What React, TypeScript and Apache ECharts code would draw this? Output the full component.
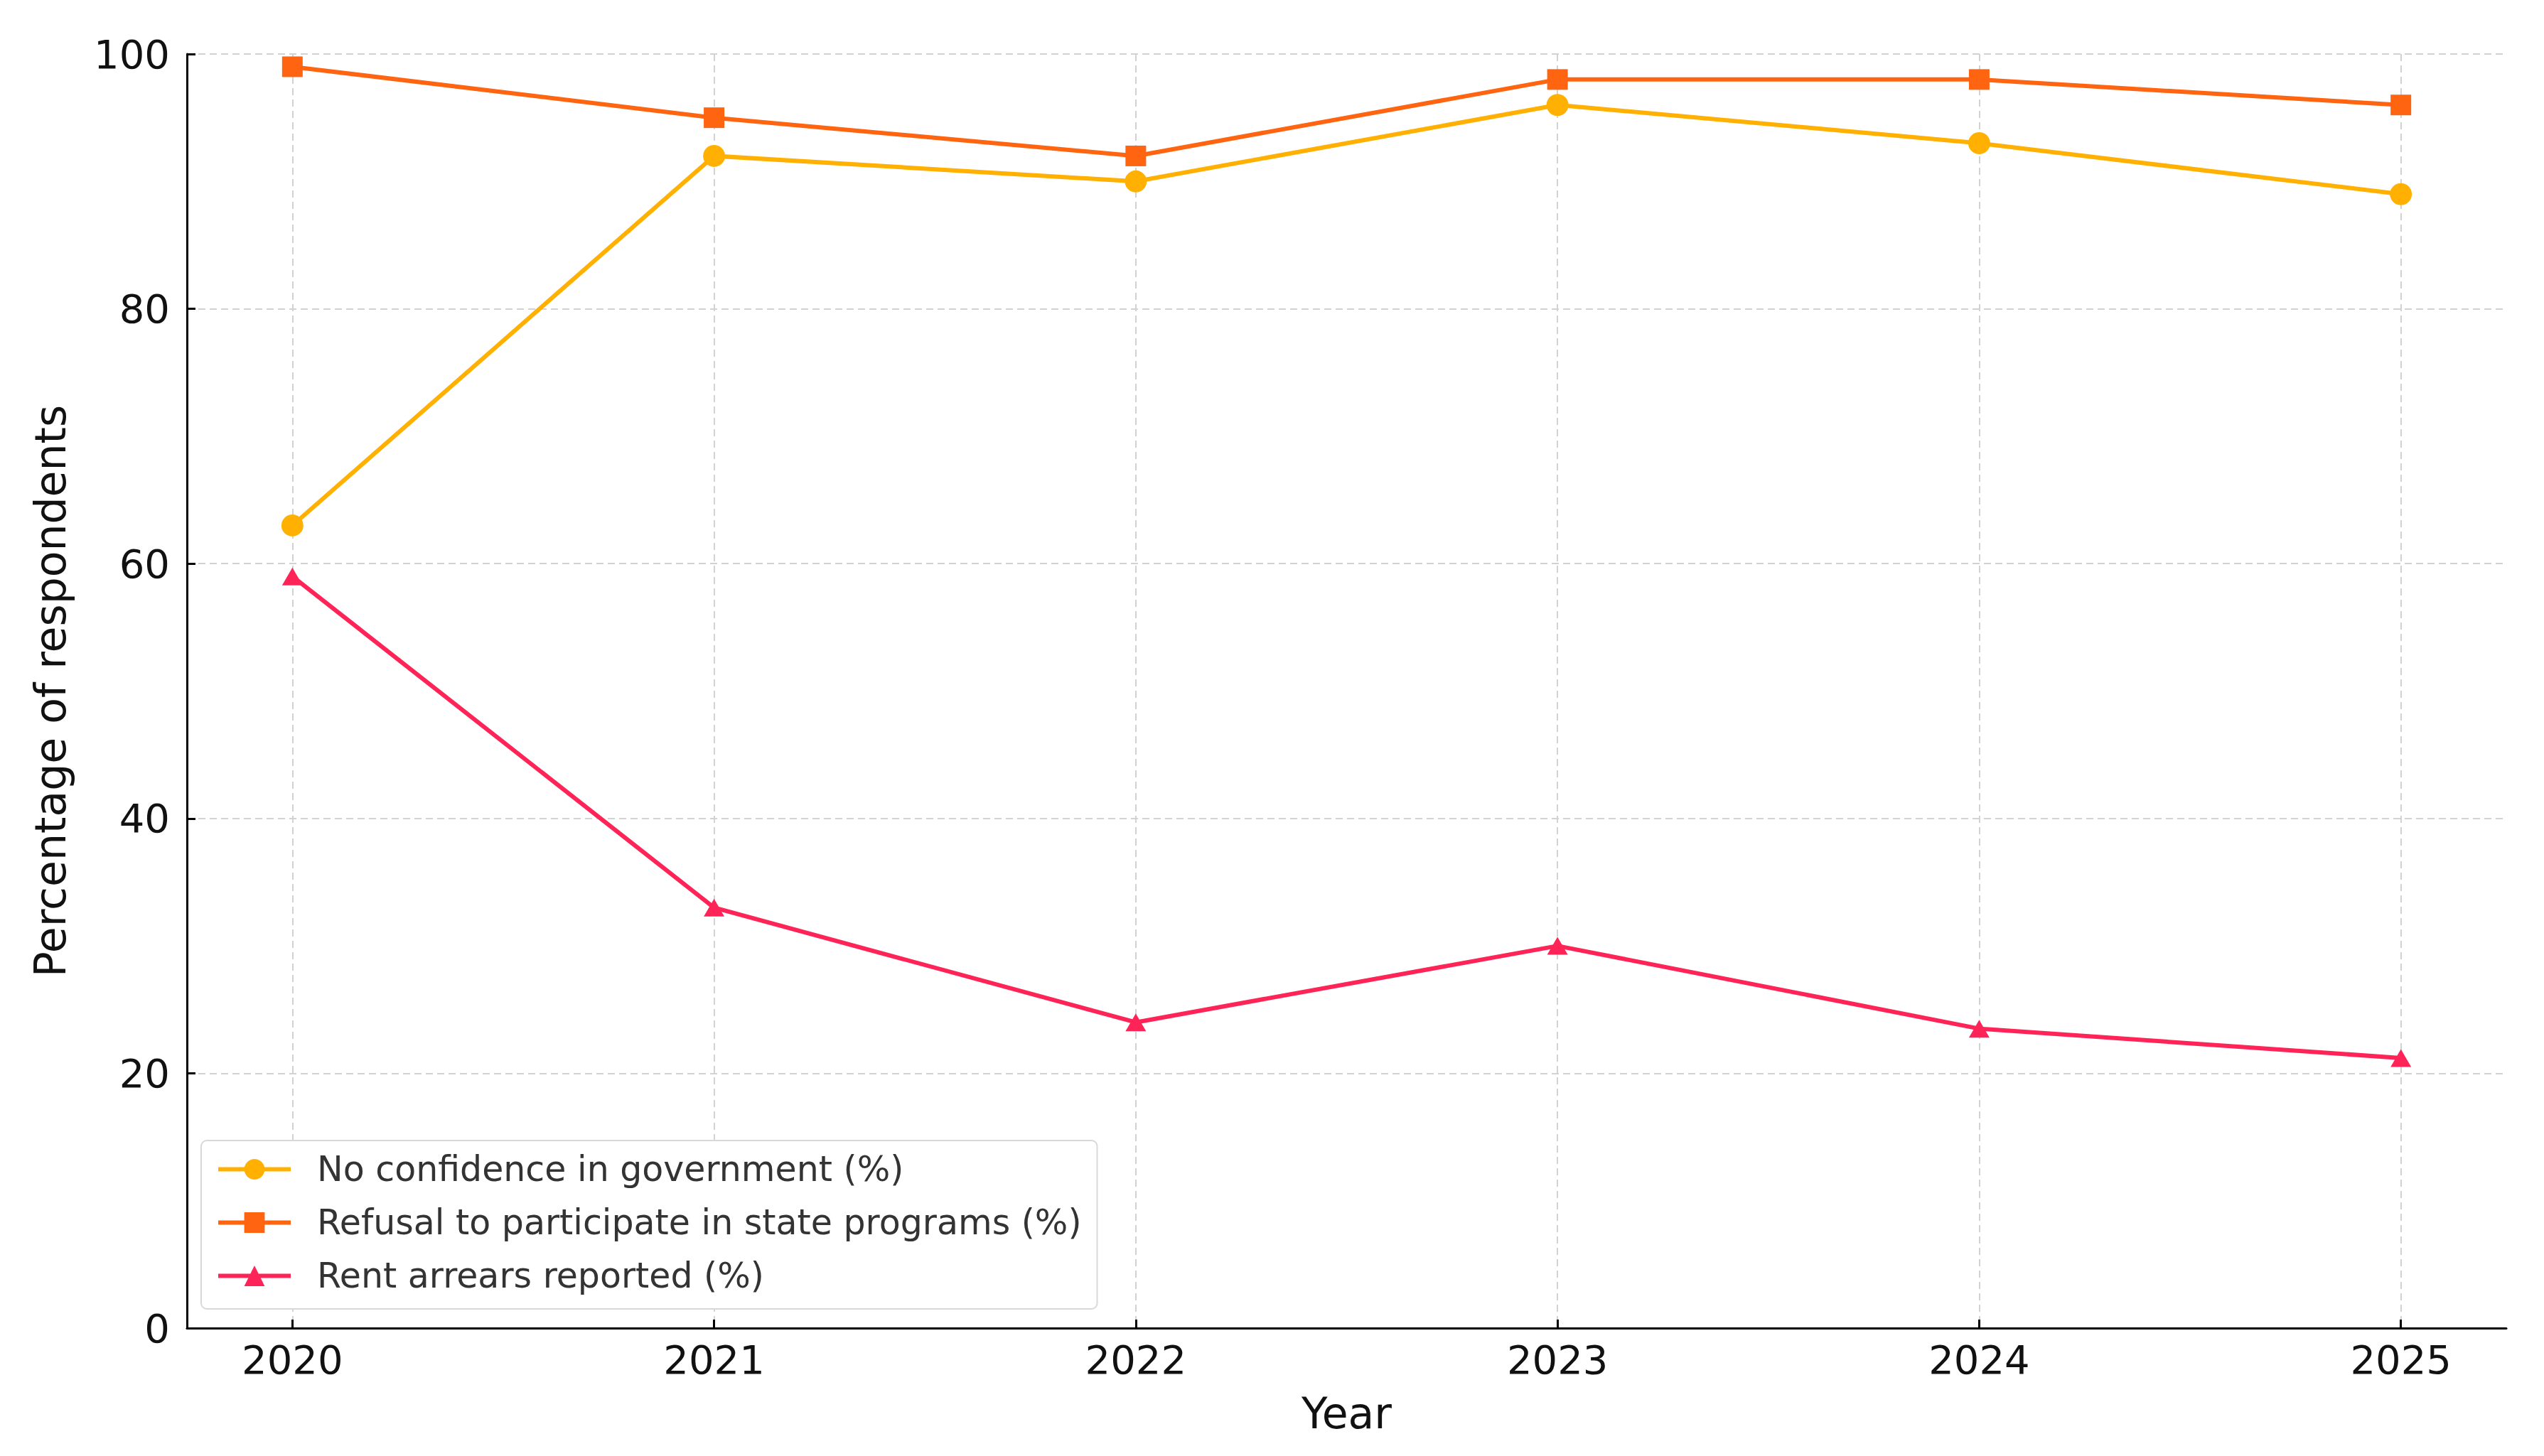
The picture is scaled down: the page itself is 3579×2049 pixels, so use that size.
import React, { useEffect, useRef } from "react";
import * as echarts from "echarts";

const years = [2020, 2021, 2022, 2023, 2024, 2025];
const noConfidence = [63, 92, 90, 96, 93, 89];
const refusal = [99, 95, 92, 98, 98, 96];
const rentArrears = [59, 33, 24, 30, 23.5, 21.2];
const yTicks = [0, 20, 40, 60, 80, 100];

const seriesNames = [
  "No confidence in government (%)",
  "Refusal to participate in state programs (%)",
  "Rent arrears reported (%)",
];
const colors = ["#FFB000", "#FF6410", "#FF2458"];

const FONT = "DejaVu Sans";

export default function App() {
  const ref = useRef<HTMLDivElement>(null);
  useEffect(() => {
    if (!ref.current) return;
    const chart = echarts.init(ref.current, null, { renderer: "svg" });
    const toPairs = (vals: number[]) => years.map((y, i) => [y, vals[i]]);
    const gridLine = {
      show: true,
      lineStyle: { color: "#d2d2d2", width: 2, type: [10, 6] as any },
    };
    chart.setOption({
      animation: false,
      backgroundColor: "#ffffff",
      grid: { left: 263, right: 53, top: 76, bottom: 180, containLabel: false },
      xAxis: {
        type: "value",
        min: 2019.75,
        max: 2025.25,
        name: "Year",
        nameLocation: "middle",
        nameGap: 90,
        nameTextStyle: { fontFamily: FONT, fontSize: 60, color: "#111" },
        axisLine: { show: true, lineStyle: { color: "#000", width: 3 } },
        axisTick: {
          show: true,
          inside: true,
          length: 12,
          lineStyle: { color: "#000", width: 3 },
          customValues: years,
        },
        axisLabel: {
          fontFamily: FONT,
          fontSize: 56,
          color: "#111",
          margin: 16,
          customValues: years,
          formatter: (v: number) => String(v),
        },
        splitLine: gridLine,
      },
      yAxis: {
        type: "value",
        min: 0,
        max: 100,
        interval: 20,
        name: "Percentage of respondents",
        nameLocation: "middle",
        nameGap: 162,
        nameTextStyle: { fontFamily: FONT, fontSize: 60, color: "#111" },
        axisLine: { show: true, lineStyle: { color: "#000", width: 3 } },
        axisTick: {
          show: true,
          inside: true,
          length: 12,
          lineStyle: { color: "#000", width: 3 },
        },
        axisLabel: {
          fontFamily: FONT,
          fontSize: 56,
          color: "#111",
          margin: 24,
          formatter: (v: number) => (yTicks.includes(v) ? String(v) : ""),
        },
        splitLine: gridLine,
      },
      legend: {
        orient: "vertical",
        left: 283,
        top: 1605,
        selectedMode: false,
        backgroundColor: "#ffffff",
        borderColor: "#d8d8d8",
        borderWidth: 2,
        borderRadius: 8,
        padding: [16, 22, 22, 21],
        itemWidth: 102,
        itemHeight: 36,
        itemGap: 26,
        lineStyle: { width: 6 },
        textStyle: {
          fontFamily: FONT,
          fontSize: 49,
          lineHeight: 49,
          color: "#333",
          padding: [0, 0, 0, 32],
        },
        data: seriesNames,
      },
      series: [
        {
          name: seriesNames[0],
          type: "line",
          data: toPairs(noConfidence),
          color: colors[0],
          symbol: "circle",
          symbolSize: 31,
          lineStyle: { width: 6, color: colors[0] },
          itemStyle: { color: colors[0] },
        },
        {
          name: seriesNames[1],
          type: "line",
          data: toPairs(refusal),
          color: colors[1],
          symbol: "rect",
          symbolSize: 29,
          lineStyle: { width: 6, color: colors[1] },
          itemStyle: { color: colors[1] },
        },
        {
          name: seriesNames[2],
          type: "line",
          data: toPairs(rentArrears),
          color: colors[2],
          symbol: "triangle",
          symbolSize: [29, 25],
          lineStyle: { width: 6, color: colors[2] },
          itemStyle: { color: colors[2] },
        },
      ],
    });
    return () => chart.dispose();
  }, []);
  return (
    <div
      ref={ref}
      style={{ position: "absolute", left: 0, top: 0, width: 3579, height: 2049 }}
    />
  );
}
